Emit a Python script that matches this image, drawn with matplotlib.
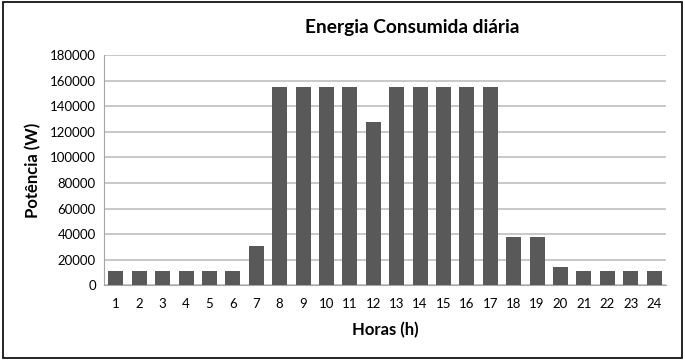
import numpy as np
import matplotlib
matplotlib.use("Agg")
import matplotlib.pyplot as plt
from matplotlib.patches import Rectangle

plt.rcParams['font.family'] = ['Lato', 'DejaVu Sans']

# hourly consumption
horas = list(range(1, 25))
potencia = [11000, 11000, 11000, 11000, 11000, 11000, 31000,
            155000, 155000, 155000, 155000, 128000, 155000, 155000,
            155000, 155000, 155000, 37500, 37500, 14000,
            11000, 11000, 11000, 11000]
y_ticks = list(range(0, 180001, 20000))

fig = plt.figure(figsize=(6.85, 3.6), dpi=100)
ax = fig.add_axes([0.152, 0.2075, 0.820, 0.6395])

x = np.arange(len(horas))
ax.bar(x, potencia, width=0.64, color='#595959', zorder=3)

ax.set_xlim(-0.5, len(horas) - 0.5)
ax.set_ylim(0, 180000)
ax.set_yticks(y_ticks)
ax.set_yticklabels([str(v) for v in y_ticks], fontsize=9.5)
ax.set_xticks(x)
ax.set_xticklabels([str(h) for h in horas], fontsize=9.5)
ax.tick_params(axis='both', length=0, pad=6)
ax.tick_params(axis='x', pad=9)

ax.grid(axis='y', color='#BFBFBF', linewidth=1.2, zorder=0)
for side in ['top', 'right']:
    ax.spines[side].set_visible(False)
ax.spines['left'].set_color('#A6A6A6')
ax.spines['bottom'].set_color('#A6A6A6')

ax.set_xlabel('Horas (h)', fontsize=12, fontweight='bold', labelpad=9)
ax.set_ylabel('Potência (W)', fontsize=12, fontweight='bold', labelpad=6)
fig.text(412 / 685, 1 - 27 / 360, 'Energia Consumida diária', fontsize=13.8,
         fontweight='bold', ha='center', va='center')

# frame around the chart
fig.patches.append(Rectangle((0.004, 0.006), 0.992, 0.988, transform=fig.transFigure,
                             fill=False, edgecolor='black', linewidth=1.2))

fig.savefig('out.png', dpi=100)
